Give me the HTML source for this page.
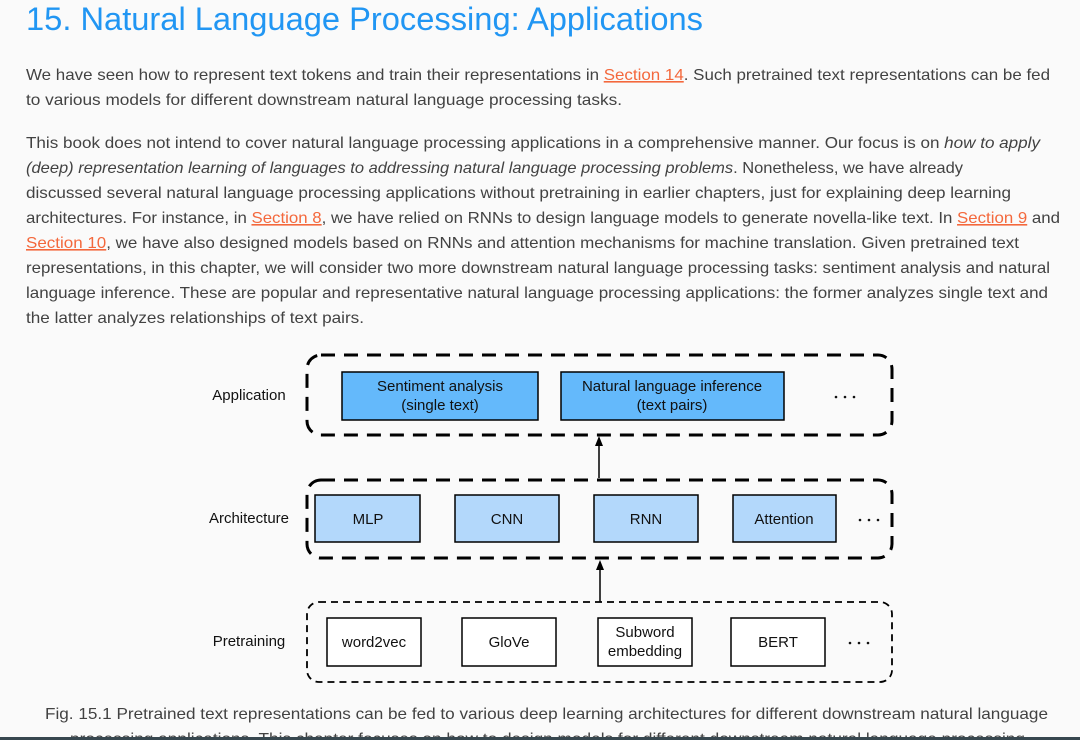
<!DOCTYPE html>
<html><head><meta charset="utf-8"><style>
html,body{margin:0;padding:0;background:#fafafa;}
svg{display:block;}
text{font-family:"Liberation Sans",Arial,sans-serif;}
</style></head><body>
<svg width="1080" height="740" viewBox="0 0 1080 740" xmlns="http://www.w3.org/2000/svg">
<rect width="1080" height="740" fill="#fafafa"/>
<text x="26" y="30" font-size="32" fill="#2196f3" textLength="677" lengthAdjust="spacingAndGlyphs">15. Natural Language Processing: Applications</text>
<g font-size="16" fill="#424242">
<text x="26" y="80" textLength="1024" lengthAdjust="spacingAndGlyphs">We have seen how to represent text tokens and train their representations in <tspan fill="#f4683c" text-decoration="underline">Section 14</tspan>. Such pretrained text representations can be fed</text>
<text x="26" y="105" textLength="596" lengthAdjust="spacingAndGlyphs">to various models for different downstream natural language processing tasks.</text>
<text x="26" y="148" textLength="1014" lengthAdjust="spacingAndGlyphs">This book does not intend to cover natural language processing applications in a comprehensive manner. Our focus is on <tspan font-style="italic">how to apply</tspan></text>
<text x="26" y="173" textLength="937" lengthAdjust="spacingAndGlyphs"><tspan font-style="italic">(deep) representation learning of languages to addressing natural language processing problems</tspan>. Nonetheless, we have already</text>
<text x="26" y="198" textLength="985" lengthAdjust="spacingAndGlyphs">discussed several natural language processing applications without pretraining in earlier chapters, just for explaining deep learning</text>
<text x="26" y="223" textLength="1034" lengthAdjust="spacingAndGlyphs">architectures. For instance, in <tspan fill="#f4683c" text-decoration="underline">Section 8</tspan>, we have relied on RNNs to design language models to generate novella-like text. In <tspan fill="#f4683c" text-decoration="underline">Section 9</tspan> and</text>
<text x="26" y="248" textLength="993" lengthAdjust="spacingAndGlyphs"><tspan fill="#f4683c" text-decoration="underline">Section 10</tspan>, we have also designed models based on RNNs and attention mechanisms for machine translation. Given pretrained text</text>
<text x="26" y="273" textLength="1024" lengthAdjust="spacingAndGlyphs">representations, in this chapter, we will consider two more downstream natural language processing tasks: sentiment analysis and natural</text>
<text x="26" y="298" textLength="1022" lengthAdjust="spacingAndGlyphs">language inference. These are popular and representative natural language processing applications: the former analyzes single text and</text>
<text x="26" y="323" textLength="338" lengthAdjust="spacingAndGlyphs">the latter analyzes relationships of text pairs.</text>
</g>
<g fill="none" stroke="#000">
<rect x="307" y="355" width="585" height="80" rx="14" stroke-width="3" stroke-dasharray="14,9"/>
<rect x="307" y="480" width="585" height="78" rx="14" stroke-width="3" stroke-dasharray="14,9"/>
<rect x="307" y="602" width="585" height="80" rx="12" stroke-width="1.8" stroke-dasharray="7,5"/>
</g>
<g stroke="#000" stroke-width="1.5">
<rect x="342" y="372" width="196" height="48" fill="#64b9fb"/>
<rect x="561" y="372" width="223" height="48" fill="#64b9fb"/>
<rect x="315" y="495" width="105" height="47" fill="#b3d8fb"/>
<rect x="455" y="495" width="104" height="47" fill="#b3d8fb"/>
<rect x="594" y="495" width="104" height="47" fill="#b3d8fb"/>
<rect x="733" y="495" width="103" height="47" fill="#b3d8fb"/>
<rect x="327" y="618" width="94" height="48" fill="#fff"/>
<rect x="462" y="618" width="94" height="48" fill="#fff"/>
<rect x="598" y="618" width="94" height="48" fill="#fff"/>
<rect x="731" y="618" width="94" height="48" fill="#fff"/>
<line x1="599" y1="478" x2="599" y2="442"/>
<line x1="600" y1="602" x2="600" y2="566"/>
</g>
<path d="M599 436 L595 446 L603 446 Z M600 560 L596 570 L604 570 Z" fill="#000"/>
<g fill="#111">
<circle cx="836" cy="397" r="1.3"/><circle cx="845" cy="397" r="1.3"/><circle cx="854" cy="397" r="1.3"/>
<circle cx="860" cy="520" r="1.3"/><circle cx="869" cy="520" r="1.3"/><circle cx="878" cy="520" r="1.3"/>
<circle cx="850" cy="643" r="1.3"/><circle cx="859" cy="643" r="1.3"/><circle cx="868" cy="643" r="1.3"/>
</g>
<g font-size="15" fill="#111" text-anchor="middle">
<text x="440" y="391">Sentiment analysis</text>
<text x="440" y="410">(single text)</text>
<text x="672" y="391">Natural language inference</text>
<text x="672" y="410">(text pairs)</text>
<text x="368" y="524">MLP</text>
<text x="507" y="524">CNN</text>
<text x="646" y="524">RNN</text>
<text x="784" y="524">Attention</text>
<text x="374" y="647">word2vec</text>
<text x="509" y="647">GloVe</text>
<text x="645" y="637">Subword</text>
<text x="645" y="656">embedding</text>
<text x="778" y="647">BERT</text>
<text x="249" y="400">Application</text>
<text x="249" y="523">Architecture</text>
<text x="249" y="646">Pretraining</text>
</g>
<text x="45" y="719" font-size="16" fill="#424242" textLength="1003" lengthAdjust="spacingAndGlyphs">Fig. 15.1  Pretrained text representations can be fed to various deep learning architectures for different downstream natural language</text>
<text x="70" y="744" font-size="16" fill="#424242" textLength="955" lengthAdjust="spacingAndGlyphs">processing applications. This chapter focuses on how to design models for different downstream natural language processing</text>
<rect x="0" y="737" width="1080" height="3" fill="#37474f"/>
</svg>
</body></html>
